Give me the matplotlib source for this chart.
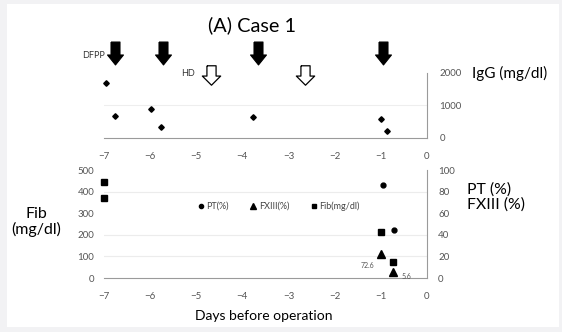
import matplotlib
matplotlib.use('Agg')
import matplotlib.pyplot as plt
from matplotlib.path import Path
from matplotlib.patches import Rectangle
from matplotlib.lines import Line2D
from matplotlib.transforms import blended_transform_factory

plt.rcParams['font.family'] = ['Lato', 'DejaVu Sans']

# IgG (top panel)
igg_days = [-6.95, -6.77, -5.98, -5.77, -3.77, -1.0, -0.86]
igg_vals = [1690, 680, 890, 340, 650, 585, 215]

# coagulation (bottom panel)
fib_days = [-7.0, -7.0, -1.0, -0.74]
fib_vals = [444, 370, 213, 72.6]
pt_days = [-0.95, -0.72]
pt_vals = [86, 44]
fx_days = [-1.0, -0.74]
fx_vals = [22, 5.6]

dfpp_days = [-6.76, -5.72, -3.67, -0.96]
hd_days = [-4.68, -2.65]

day_ticks = [-7, -6, -5, -4, -3, -2, -1, 0]
fib_ticks = [0, 100, 200, 300, 400, 500]
pct_ticks = [0, 20, 40, 60, 80, 100]
igg_ticks = [0, 1000, 2000]

W, H = 562, 332
fig = plt.figure(figsize=(W / 100, H / 100), dpi=100)
fig.patch.set_facecolor('#f2f2f4')
fig.patches.append(Rectangle((7 / W, 5 / H), 552 / W, 323 / H,
                             transform=fig.transFigure, facecolor='white',
                             edgecolor='none', zorder=-10))


def px_axes(x0, y_top, x1, y_bot):
    return fig.add_axes([x0 / W, (H - y_bot) / H, (x1 - x0) / W, (y_bot - y_top) / H])


def down_arrow(shaft, head, head_h, total):
    # block arrow pointing down, centred on the marker position
    v = [(-shaft, total), (shaft, total), (shaft, head_h), (head, head_h),
         (0, 0), (-head, head_h), (-shaft, head_h), (-shaft, total)]
    return Path([(x, y - total / 2) for x, y in v])


spine_c = '#9a9a9a'
tick_c = '#555555'

# ---- top panel: IgG
ax1 = px_axes(104, 73, 427, 138)
ax1.set_facecolor('none')
ax1.set_xlim(-7, 0)
ax1.set_ylim(0, 2000)
for s in ['top', 'left']:
    ax1.spines[s].set_visible(False)
for s in ['bottom', 'right']:
    ax1.spines[s].set_color(spine_c)
ax1.yaxis.tick_right()
ax1.set_yticks(igg_ticks)
ax1.set_xticks(day_ticks)
ax1.tick_params(axis='x', length=0, pad=10, labelsize=7, labelcolor=tick_c)
ax1.tick_params(axis='y', length=0, pad=9, labelsize=7, labelcolor=tick_c)
ax1.axhline(1000, color='#eeeeee', lw=0.8, zorder=0)
ax1.plot(igg_days, igg_vals, 'D', color='black', ms=2.8, ls='none', clip_on=False)

# DFPP (filled) and HD (hollow) arrows
tr = blended_transform_factory(ax1.transData, ax1.transAxes)
ax1.plot(dfpp_days, [(138 - 53) / 65] * len(dfpp_days), ls='none',
         marker=down_arrow(4.5, 8, 10, 23), ms=16.5, mfc='black', mec='black',
         mew=0.8, transform=tr, clip_on=False)
ax1.plot(hd_days, [(138 - 75) / 65] * len(hd_days), ls='none',
         marker=down_arrow(4, 8, 8, 17), ms=14, mfc='white', mec='black',
         mew=0.9, transform=tr, clip_on=False)
fig.text(105 / W, (H - 55) / H, 'DFPP', fontsize=6.5, ha='right', va='center', color='#333333')
fig.text(195 / W, (H - 73) / H, 'HD', fontsize=6.5, ha='right', va='center', color='#333333')

fig.text(252 / W, (H - 25) / H, '(A) Case 1', fontsize=14.3, ha='center', va='center')
fig.text(472 / W, (H - 73) / H, 'IgG (mg/dl)', fontsize=11, ha='left', va='center')

# ---- bottom panel: Fib / PT / FXIII
ax2 = px_axes(104, 170, 427, 278)
ax2.set_facecolor('none')
ax2.set_xlim(-7, 0)
ax2.set_ylim(0, 500)
for s in ['top', 'left', 'right']:
    ax2.spines[s].set_visible(False)
ax2.spines['bottom'].set_color(spine_c)
ax2.set_xticks(day_ticks)
ax2.set_yticks(fib_ticks)
ax2.tick_params(axis='x', length=0, pad=10, labelsize=7, labelcolor=tick_c)
ax2.tick_params(axis='y', length=0, pad=7, labelsize=7, labelcolor=tick_c)
for v in [100, 200, 400]:
    ax2.axhline(v, color='#ececec', lw=0.8, zorder=0)

ax3 = ax2.twinx()
ax3.set_ylim(0, 100)
ax3.set_yticks(pct_ticks)
for s in ['top', 'left', 'bottom']:
    ax3.spines[s].set_visible(False)
ax3.spines['right'].set_color(spine_c)
ax3.tick_params(axis='y', length=0, pad=8, labelsize=7, labelcolor=tick_c)

ax2.plot(fib_days, fib_vals, 's', color='black', ms=4, ls='none', clip_on=False)
ax3.plot(pt_days, pt_vals, 'o', color='black', ms=3.5, ls='none', clip_on=False)
ax3.plot(fx_days, fx_vals, '^', color='black', ms=6, ls='none', clip_on=False)

ax2.annotate('72.6', (fib_days[-1], fib_vals[-1]), xytext=(-18, -2),
             textcoords='offset points', fontsize=5, color='#555555', ha='center', va='center')
ax3.annotate('5.6', (fx_days[-1], fx_vals[-1]), xytext=(10, -3),
             textcoords='offset points', fontsize=5, color='#555555', ha='center', va='center')

handles = [Line2D([], [], marker='o', color='black', ls='none', ms=3),
           Line2D([], [], marker='^', color='black', ls='none', ms=4),
           Line2D([], [], marker='s', color='black', ls='none', ms=3)]
ax3.legend(handles, ['PT(%)', 'FXIII(%)', 'Fib(mg/dl)'], ncol=3, frameon=False,
           fontsize=6.5, labelcolor='#444444', loc='center',
           bbox_to_anchor=(278 / W, (H - 206) / H), bbox_transform=fig.transFigure,
           handletextpad=0.1, columnspacing=2.2, handlelength=1)

fig.text(467 / W, (H - 190) / H, 'PT (%)', fontsize=11.3, ha='left', va='center')
fig.text(467 / W, (H - 205) / H, 'FXIII (%)', fontsize=11.3, ha='left', va='center')
fig.text(36 / W, (H - 222) / H, 'Fib\n(mg/dl)', fontsize=11.5, ha='center', va='center',
         linespacing=1.1)
fig.text(264 / W, (H - 316) / H, 'Days before operation', fontsize=10, ha='center', va='center')

fig.savefig('out.png', dpi=100, facecolor=fig.get_facecolor())
